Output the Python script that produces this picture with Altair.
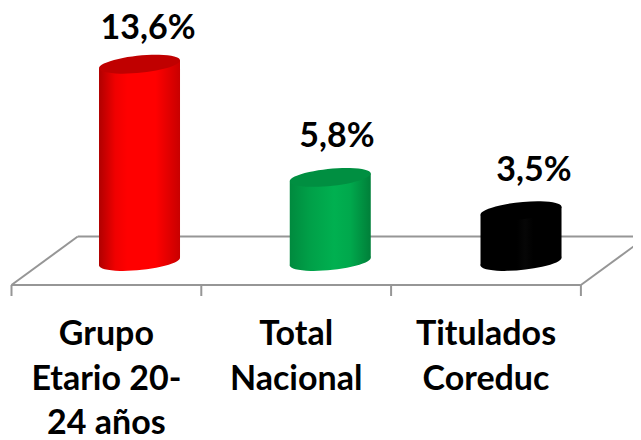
import altair as alt
import pandas as pd

categories = ["Grupo\nEtario 20-\n24 años", "Total\nNacional", "Titulados\nCoreduc"]
values = [13.6, 5.8, 3.5]
value_labels = ["13,6%", "5,8%", "3,5%"]
label_shift_x = [0.045, 0.035, 0.068]
label_shift_y = [1.76, 2.1, 2.06]
body_stops = [
    [("#b00000", 0), ("#f00000", 0.2), ("#ff0000", 0.35), ("#ff0000", 0.7), ("#c80000", 1)],
    [("#008a3e", 0), ("#00a048", 0.25), ("#00b050", 0.55), ("#00a84c", 0.75), ("#007f39", 1)],
    [("#000000", 0), ("#000000", 0.45), ("#060606", 0.55), ("#000000", 0.65), ("#000000", 1)],
]
cap_colors = ["#c00000", "#008f41", "#000000"]
floor_color = "#969696"

SLOT = 1.0
DEPTH = 0.349
BAR_STEP = 1.005
HALF_W = 0.2134
TILT = 0.276
BACK = 1.72
FRONT = -1.62
TICK_END = -2.38
X = alt.Scale(domain=[-0.0184, 3.2745], nice=False, zero=False)
Y = alt.Scale(domain=[-12.31, 17.48], nice=False, zero=False)
ELLIPSE = "M-1,0.1 A1.005,0.21 -5.7 1 1 1,-0.1 A1.005,0.21 -5.7 1 1 -1,0.1 Z"
ELLIPSE_SIZE = 6561
FONT = dict(font="Lato", fontWeight="bold", fontSize=34, color="#000000", baseline="alphabetic")


def xe(field):
    return alt.X(f"{field}:Q", scale=X, axis=None)


def ye(field):
    return alt.Y(f"{field}:Q", scale=Y, axis=None)


def grad(stops):
    return alt.Gradient(
        gradient="linear",
        stops=[alt.GradientStop(color=c, offset=o) for c, o in stops],
        x1=0, x2=1, y1=0, y2=0,
    )


n = len(categories)
floor_rows = [
    dict(x=0, y=FRONT, x2=n * SLOT, y2=FRONT),
    dict(x=DEPTH, y=BACK, x2=n * SLOT + DEPTH, y2=BACK),
    dict(x=0, y=FRONT, x2=DEPTH, y2=BACK),
    dict(x=n * SLOT, y=FRONT, x2=n * SLOT + DEPTH, y2=BACK),
]
floor_rows += [dict(x=i * SLOT, y=FRONT, x2=i * SLOT, y2=TICK_END) for i in range(n + 1)]
floor = (
    alt.Chart(pd.DataFrame(floor_rows))
    .mark_rule(color=floor_color, strokeWidth=2, clip=False)
    .encode(x=xe("x"), y=ye("y"), x2="x2:Q", y2="y2:Q")
)

centers = [0.5 * SLOT + DEPTH / 2 + i * BAR_STEP for i in range(n)]
layers = [floor]
for i, v in enumerate(values):
    cx = centers[i]
    body = pd.DataFrame(
        [
            dict(x=cx - HALF_W, top=v - TILT, bottom=-TILT),
            dict(x=cx + HALF_W, top=v + TILT, bottom=TILT),
        ]
    )
    g = grad(body_stops[i])
    layers.append(
        alt.Chart(pd.DataFrame([dict(x=cx, y=0)]))
        .mark_point(shape=ELLIPSE, size=ELLIPSE_SIZE, filled=True, fill=g, opacity=1, strokeWidth=0)
        .encode(x=xe("x"), y=ye("y"))
    )
    layers.append(
        alt.Chart(body)
        .mark_area(fill=g, opacity=1)
        .encode(x=xe("x"), y=ye("top"), y2="bottom:Q")
    )
    layers.append(
        alt.Chart(pd.DataFrame([dict(x=cx, y=v)]))
        .mark_point(shape=ELLIPSE, size=ELLIPSE_SIZE, filled=True, fill=cap_colors[i], opacity=1, strokeWidth=0)
        .encode(x=xe("x"), y=ye("y"))
    )

labels = pd.DataFrame(
    dict(
        x=[c + s for c, s in zip(centers, label_shift_x)],
        y=[v + s for v, s in zip(values, label_shift_y)],
        t=value_labels,
    )
)
layers.append(
    alt.Chart(labels)
    .mark_text(**FONT)
    .encode(x=xe("x"), y=ye("y"), text="t:N")
)

cats = pd.DataFrame(dict(x=[(i + 0.5) * SLOT for i in range(n)], y=[-5.76] * n, t=categories))
layers.append(
    alt.Chart(cats)
    .mark_text(lineBreak="\n", lineHeight=44.5, **FONT)
    .encode(x=xe("x"), y=ye("y"), text="t:N")
)

chart = (
    alt.layer(*layers)
    .properties(width=625, height=432, padding=0, autosize="none", background="white")
    .configure_view(stroke=None)
)
chart.save("out.html", embed_options={"renderer": "svg", "actions": False})
